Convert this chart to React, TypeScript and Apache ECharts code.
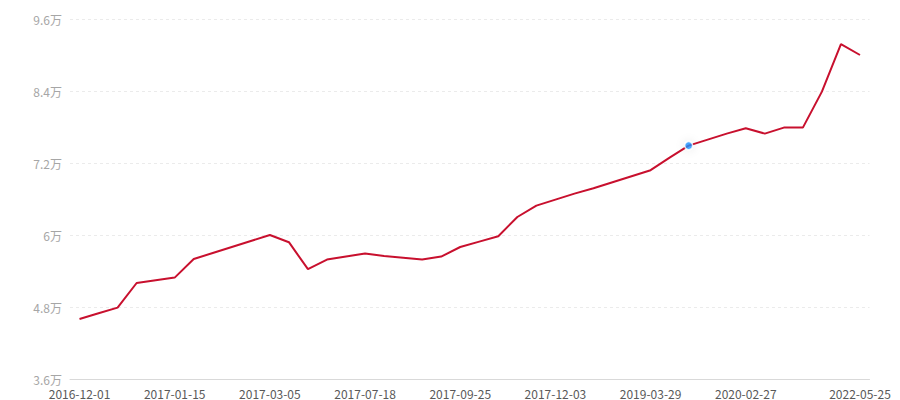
import React, { useEffect, useRef } from "react";
import * as echarts from "echarts";

const categories: string[] = [
  "2016-12-01", "2016-12-10", "2016-12-19", "2016-12-28", "2017-01-06",
  "2017-01-15", "2017-01-25", "2017-02-03", "2017-02-13", "2017-02-23",
  "2017-03-05", "2017-03-28", "2017-04-20", "2017-05-15", "2017-06-16",
  "2017-07-18", "2017-07-31", "2017-08-14", "2017-08-28", "2017-09-11",
  "2017-09-25", "2017-10-09", "2017-10-23", "2017-11-06", "2017-11-20",
  "2017-12-03", "2018-03-15", "2018-06-20", "2018-09-18", "2018-12-20",
  "2019-03-29", "2019-06-15", "2019-08-30", "2019-10-25", "2019-12-20",
  "2020-02-27", "2020-05-20", "2020-09-10", "2021-01-15", "2021-06-20",
  "2021-11-25", "2022-05-25",
];

const values: number[] = [
  46000, 46950, 47900, 52000, 52450,
  52900, 56000, 57000, 58000, 59000,
  60000, 58800, 54300, 55900, 56400,
  56900, 56500, 56200, 55900, 56400,
  58000, 58900, 59800, 63000, 64900,
  65900, 66900, 67800, 68800, 69800,
  70800, 72900, 74900, 75900, 76900,
  77800, 76900, 77900, 77900, 83900,
  91800, 90000,
];

const highlightIndex = 32;

const yMin = 36000;
const yMax = 96000;
const yInterval = 12000;

const labelIndexes: number[] = [0, 5, 10, 15, 20, 25, 30, 35, 41];

export default function App() {
  const ref = useRef<HTMLDivElement>(null);
  useEffect(() => {
    if (!ref.current) return;
    const chart = echarts.init(ref.current, undefined, { renderer: "svg" });
    const showIdx = (i: number) => labelIndexes.indexOf(i) >= 0;
    chart.setOption({
      animation: false,
      textStyle: { fontFamily: "'Noto Sans CJK SC', 'Noto Sans', sans-serif" },
      grid: { left: 70, right: 30.5, top: 19, bottom: 21, containLabel: false },
      xAxis: {
        type: "category",
        data: categories,
        boundaryGap: true,
        axisLine: { lineStyle: { color: "#d9d9d9" } },
        axisTick: {
          alignWithLabel: true,
          interval: (i: number) => showIdx(i),
          lineStyle: { color: "#d9d9d9" },
          length: 5,
        },
        axisLabel: {
          interval: (i: number) => showIdx(i),
          color: "#595959",
          fontSize: 12,
          lineHeight: 12,
          margin: 8,
        },
        splitLine: { show: false },
      },
      yAxis: {
        type: "value",
        min: yMin,
        max: yMax,
        interval: yInterval,
        axisLine: { show: false },
        axisTick: { show: false },
        axisLabel: {
          color: "#a6a6a6",
          fontSize: 12,
          margin: 8,
          formatter: (v: number) => `${+(v / 10000).toFixed(2)}万`,
        },
        splitLine: { lineStyle: { color: "#ebebeb", type: [3, 3], width: 1 } },
      },
      series: [
        {
          type: "line",
          data: values,
          showSymbol: false,
          symbol: "none",
          lineStyle: { color: "#c8102e", width: 2 },
          itemStyle: { color: "#c8102e" },
        },
        {
          type: "scatter",
          data: [[highlightIndex, values[highlightIndex]]],
          symbolSize: 8,
          itemStyle: {
            color: "#1890ff",
            borderColor: "#ffffff",
            borderWidth: 1.5,
            shadowBlur: 10,
            shadowColor: "rgba(0,0,0,0.12)",
          },
          z: 5,
        },
      ],
    });
    return () => chart.dispose();
  }, []);
  return (
    <div
      ref={ref}
      style={{ position: "fixed", left: 0, top: 0, width: 900, height: 400, background: "#fff" }}
    />
  );
}
